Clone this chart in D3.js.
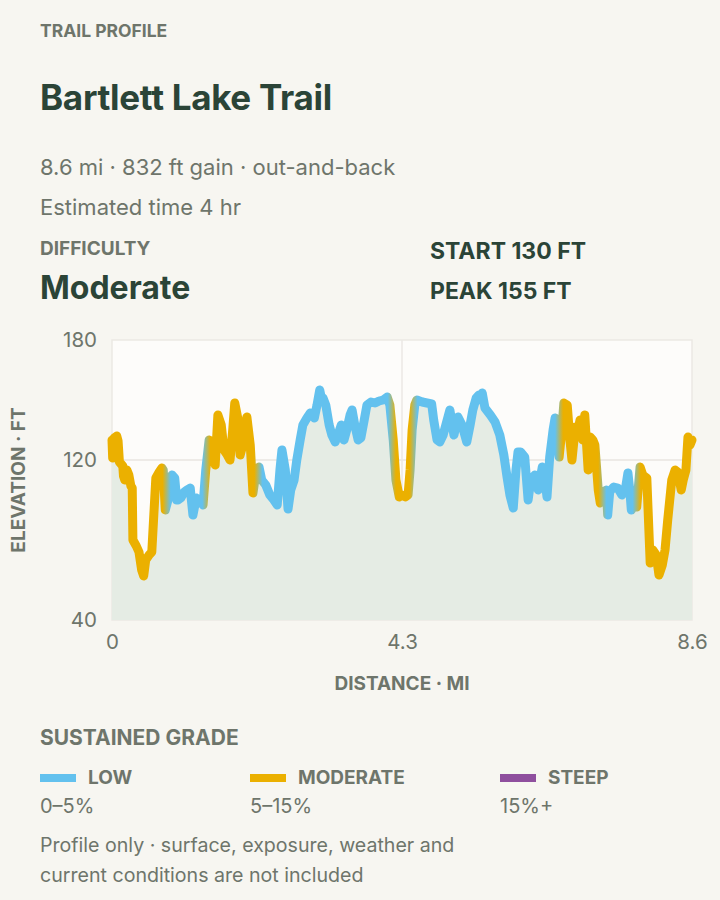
<!DOCTYPE html>
<html>
<head>
<meta charset="utf-8">
<script src="https://cdn.jsdelivr.net/npm/d3@7"></script>
<style>
  html, body { margin: 0; padding: 0; background: #f7f6f1; }
  svg { display: block; font-family: Inter, "Noto Sans", sans-serif; }
</style>
</head>
<body>
<svg id="chart" width="720" height="900"></svg>
<script>
// ---- data ----
const distanceMi = [
  0.00,0.01,0.03,0.07,0.09,0.11,0.16,0.17,0.19,0.22,0.25,0.28,0.30,0.31,0.36,0.40,0.44,0.47,0.50,0.55,0.59,0.62,0.65,0.70,
  0.74,0.76,0.79,0.83,0.86,0.89,0.93,0.96,0.98,1.02,1.07,1.11,1.16,1.18,1.20,1.25,1.30,1.35,1.39,1.44,1.48,1.53,1.57,1.62,
  1.66,1.71,1.75,1.79,1.82,1.87,1.90,1.94,2.00,2.05,2.09,2.14,2.18,2.22,2.28,2.34,2.40,2.45,2.49,2.52,
  2.57,2.61,2.65,2.70,2.74,2.79,2.83,2.89,2.94,3.00,3.04,3.08,3.11,3.13,3.17,3.22,3.26,3.31,3.35,3.40,3.44,
  3.48,3.53,3.56,3.60,3.65,3.69,3.74,3.78,3.84,3.90,3.96,4.02,4.08,4.12,4.17,4.21,4.26,4.30,
  4.35,4.39,4.42,4.45,4.49,4.52,4.60,4.67,4.74,4.77,4.82,4.86,4.91,4.95,5.01,5.07,5.13,5.19,5.26,5.31,
  5.35,5.40,5.44,5.47,5.49,5.53,5.61,5.68,5.75,5.81,5.86,5.90,5.95,5.99,6.02,6.06,6.12,6.17,6.21,6.27,6.32,
  6.38,6.42,6.45,6.49,6.54,6.57,6.60,6.63,6.67,6.70,6.75,6.79,6.82,6.87,6.91,6.94,6.98,7.01,7.06,7.09,
  7.13,7.16,7.21,7.24,7.28,7.33,7.35,7.38,7.40,7.44,7.50,7.56,7.61,7.65,7.68,7.70,7.74,7.78,7.83,7.87,7.93,7.98,
  8.02,8.07,8.11,8.16,8.20,8.24,8.30,8.35,8.39,8.44,8.47,8.51,8.54,8.57,8.60
];
const elevationFt = [
  130,121,131,132,129.5,119,117,112,110,115,112.5,107,106,80,77,74,65,62,70,72.5,74,92.5,111,114,
  116,115,95,100,111,112.5,111,100,100,101,104,105,106,99,92.5,101,100,97.5,115,130,125,117.5,142.5,137.5,
  125,122.5,120,135,148.5,140,122.5,127.5,141.5,127.5,103.5,115,116.5,110,107.5,102.5,100,97.5,115,125,
  115,95.5,105,110,120,130,137.5,141,143.5,141,147.5,155,150,151,147.5,137.5,132.5,129,132.5,137.5,130,
  135,142.5,145,137.5,130,131,140,147.5,149,148.5,149.5,150,151.5,147.5,130,110,101.5,102.5,
  101.5,102.5,115,135,147.5,150,149,148.5,148,140,130,129,132.5,137.5,145,132.5,141.5,137.5,129,137.5,
  145,151,152.5,150,153.5,146,142.5,139,132.5,122.5,111,102.5,96,115,124,124,121.5,100,110,112.5,105,
  116.5,110,101.5,121.5,135,141,137.5,121.5,135,148.5,147.5,130,120,136.5,135,140,130,142.5,115,131.5,
  130,127.5,105,98.5,104,105,92.5,104,105,106.5,106,102.5,105,113.5,104,95,97.5,96.5,116.5,112.5,111,68.5,
  75,72.5,62.5,67.5,75,90,110,115,114,105,110,115,131.5,127.5,130
];
// sustained-grade class changes (mi) and the class of each stretch
const gradeBreaksMi = [0.81, 1.40, 2.17, 4.15, 4.47, 6.63, 7.27, 7.78];
const gradeClassBySegment = ["moderate","low","moderate","low","moderate","low","moderate","low","moderate"];

const legendKeys = ["low", "moderate", "steep"];
const legendLabels = ["LOW", "MODERATE", "STEEP"];
const legendRanges = ["0–5%", "5–15%", "15%+"];

const xTicks = [0, 4.3, 8.6];
const yTicks = [40, 120, 180];

// ---- styling ----
const gradeColor = { low: "#63c1ee", moderate: "#ebb000", steep: "#8f4f9e" };
const ink = "#2b4437";
const muted = "#6e756b";

const svg = d3.select("#chart");
const plot = { left: 112, right: 692, top: 340, bottom: 620 };

const x = d3.scaleLinear().domain([0, 8.6]).range([plot.left, plot.right]);
const y = d3.scaleLinear().domain([40, 180]).range([plot.bottom, plot.top]);

const pts = distanceMi.map((d, i) => ({ d, e: elevationFt[i] }));

// ---- header text ----
const txt = (xx, yy, s, size, weight, fill, extra) => {
  const t = svg.append("text").attr("x", xx).attr("y", yy).text(s)
    .attr("font-size", size).attr("font-weight", weight).attr("fill", fill);
  if (extra) extra(t);
  return t;
};
txt(40, 37, "TRAIL PROFILE", 17.5, 700, muted);
txt(40, 110, "Bartlett Lake Trail", 35, 700, ink, t => t.attr("letter-spacing", -0.3));
txt(40, 175, "8.6 mi · 832 ft gain · out-and-back", 22, 400, muted);
txt(40, 215, "Estimated time 4 hr", 22, 400, muted);
txt(40, 255, "DIFFICULTY", 19, 700, muted);
txt(40, 299, "Moderate", 32, 700, ink);
txt(430, 259, "START 130 FT", 23, 700, ink);
txt(430, 299, "PEAK 155 FT", 23, 700, ink);

// ---- plot frame ----
svg.append("rect")
  .attr("x", plot.left).attr("y", plot.top)
  .attr("width", plot.right - plot.left).attr("height", plot.bottom - plot.top)
  .attr("fill", "#fdfcfa").attr("stroke", "#ebe9e4").attr("stroke-width", 1.5);

// grid
svg.append("g").selectAll("line").data([120]).join("line")
  .attr("x1", plot.left).attr("x2", plot.right)
  .attr("y1", d => y(d)).attr("y2", d => y(d))
  .attr("stroke", "#e8e6e1").attr("stroke-width", 1.5);
svg.append("g").selectAll("line").data([4.3]).join("line")
  .attr("x1", d => x(d)).attr("x2", d => x(d))
  .attr("y1", plot.top).attr("y2", plot.bottom)
  .attr("stroke", "#ebe9e4").attr("stroke-width", 1.5);

// area
const area = d3.area().x(p => x(p.d)).y0(y(40)).y1(p => y(p.e));
svg.append("path").datum(pts).attr("d", area).attr("fill", "#e5ece4");

// gradient for grade colouring
const defs = svg.append("defs");
const grad = defs.append("linearGradient").attr("id", "gradeGrad")
  .attr("gradientUnits", "userSpaceOnUse")
  .attr("x1", x(0)).attr("x2", x(8.6)).attr("y1", 0).attr("y2", 0);
const blend = 0.06;
const stops = [];
gradeClassBySegment.forEach((c, i) => {
  const s = i === 0 ? 0 : gradeBreaksMi[i - 1] + blend;
  const e = i === gradeClassBySegment.length - 1 ? 8.6 : gradeBreaksMi[i] - blend;
  stops.push({ o: s / 8.6, c: gradeColor[c] }, { o: e / 8.6, c: gradeColor[c] });
});
grad.selectAll("stop").data(stops).join("stop")
  .attr("offset", s => s.o).attr("stop-color", s => s.c);

const line = d3.line().x(p => x(p.d)).y(p => y(p.e));
svg.append("path").datum(pts).attr("d", line)
  .attr("fill", "none").attr("stroke", "url(#gradeGrad)")
  .attr("stroke-width", 9).attr("stroke-linejoin", "round").attr("stroke-linecap", "round");

// axes
const yAxis = svg.append("g").attr("transform", `translate(${plot.left},0)`)
  .call(d3.axisLeft(y).tickValues(yTicks).tickSize(0).tickPadding(15));
yAxis.select(".domain").remove();
yAxis.selectAll("text").attr("font-size", 20.5).attr("fill", muted).attr("font-family", "Inter, sans-serif");

const xAxis = svg.append("g").attr("transform", `translate(0,${plot.bottom})`)
  .call(d3.axisBottom(x).tickValues(xTicks).tickFormat(d => d === 0 ? "0" : d3.format(".1f")(d)).tickSize(0).tickPadding(14));
xAxis.select(".domain").remove();
xAxis.selectAll("text").attr("font-size", 20.5).attr("fill", muted).attr("font-family", "Inter, sans-serif");

svg.append("text").attr("transform", "translate(25,480) rotate(-90)")
  .attr("text-anchor", "middle").attr("font-size", 19).attr("font-weight", 700)
  .attr("fill", muted).text("ELEVATION · FT");
svg.append("text").attr("x", x(4.3)).attr("y", 690)
  .attr("text-anchor", "middle").attr("font-size", 19).attr("font-weight", 700)
  .attr("fill", muted).text("DISTANCE · MI");

// legend
txt(40, 745, "SUSTAINED GRADE", 21, 700, muted);
const legendX = [40, 250, 500];
const lg = svg.append("g").selectAll("g").data(legendKeys).join("g")
  .attr("transform", (d, i) => `translate(${legendX[i]},0)`);
lg.append("rect").attr("x", 0).attr("y", 774).attr("width", 36).attr("height", 8)
  .attr("fill", d => gradeColor[d]);
lg.append("text").attr("x", 48).attr("y", 784).attr("font-size", 19).attr("font-weight", 700)
  .attr("fill", muted).text((d, i) => legendLabels[i]);
lg.append("text").attr("x", 0).attr("y", 813).attr("font-size", 20)
  .attr("fill", muted).text((d, i) => legendRanges[i]);

txt(40, 852, "Profile only · surface, exposure, weather and", 19.6, 400, muted);
txt(40, 882, "current conditions are not included", 19.6, 400, muted);
</script>
</body>
</html>
